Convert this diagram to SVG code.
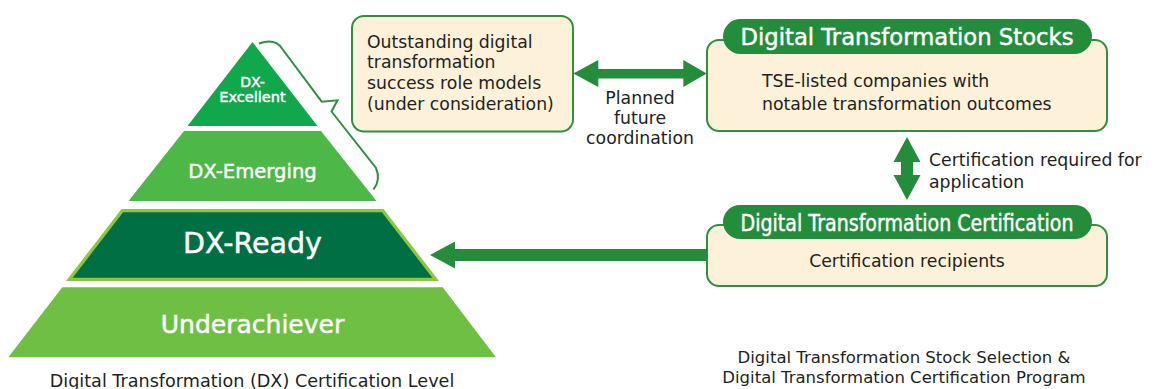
<svg xmlns="http://www.w3.org/2000/svg" width="1157" height="389" viewBox="0 0 1157 389">
<style>
text{font-family:"DejaVu Sans","Liberation Sans",sans-serif;}
.body{font-size:17.3px;fill:#231f20;}
.foot{fill:#231f20;}
.wt{fill:#fff;stroke:#fff;stroke-width:0.45;}
.hdr{font-size:22.4px;fill:#fff;stroke:#fff;stroke-width:0.45;}
.box{fill:#fdf1da;stroke:#2f9140;stroke-width:2;}
.pill{fill:#248d3b;}
.arrow{fill:#248d3b;}
</style>
<rect width="1157" height="389" fill="#fff"/>

<g id="tier-excellent">
  <polygon points="252.5,42 317.5,126 187.5,126" fill="#10a84b"/>
  <text class="wt" x="252.5" y="86.5" font-size="14" text-anchor="middle">DX-</text>
  <text class="wt" x="252.5" y="102.3" font-size="14.6" text-anchor="middle">Excellent</text>
</g>
<g id="tier-emerging">
  <polygon points="184,131 321,131 376.5,201 128.5,201" fill="#4db748"/>
  <text class="wt" x="252.5" y="177.7" font-size="19.6" text-anchor="middle">DX-Emerging</text>
</g>
<g id="tier-ready">
  <polygon points="121.5,209 383.5,209 439,281 66,281" fill="#8dc63f"/>
  <polygon points="123.1,212.3 381.9,212.3 432.3,277.7 72.7,277.7" fill="#006f44"/>
  <text class="wt" x="252.5" y="253.3" font-size="28.5" text-anchor="middle">DX-Ready</text>
</g>
<g id="tier-underachiever">
  <polygon points="62.3,287.3 442.7,287.3 496,357.3 8.3,357.3" fill="#70bf45"/>
  <text class="wt" x="252.5" y="333" font-size="25" text-anchor="middle">Underachiever</text>
</g>
<g id="bracket">
  <path d="M259,43.5 Q275,38 282,48.5 L321.7,101.7 L337.5,100.3 L331.5,111.5 L376,168 Q381,180 373.5,189.5" fill="none" stroke="#2f9140" stroke-width="2" stroke-linejoin="miter"/>
</g>
<g id="label-level">
  <text class="foot" x="252" y="386.7" font-size="17.6" text-anchor="middle">Digital Transformation (DX) Certification Level</text>
</g>

<g id="role-models">
  <rect class="box" x="352" y="16" width="221" height="115.5" rx="12"/>
  <text class="body" x="367" y="47.7">Outstanding digital</text>
  <text class="body" x="367" y="68.4">transformation</text>
  <text class="body" x="367" y="89.1">success role models</text>
  <text class="body" x="367" y="109.8">(under consideration)</text>
</g>

<g id="dx-stocks">
  <rect class="box" x="707" y="40" width="400" height="91" rx="12"/>
  <rect class="pill" x="723" y="19" width="369" height="35" rx="17.5"/>
  <text class="hdr" x="907" y="45" text-anchor="middle" textLength="333" lengthAdjust="spacingAndGlyphs">Digital Transformation Stocks</text>
  <text class="body" x="762" y="87.3">TSE-listed companies with</text>
  <text class="body" x="762" y="110">notable transformation outcomes</text>
</g>

<g id="dx-certification">
  <rect class="box" x="707" y="225" width="400" height="61" rx="12"/>
  <rect class="pill" x="723" y="205" width="369" height="34" rx="17"/>
  <text class="hdr" x="907" y="230.5" text-anchor="middle" textLength="333" lengthAdjust="spacingAndGlyphs">Digital Transformation Certification</text>
  <text class="body" x="907" y="266.7" text-anchor="middle">Certification recipients</text>
</g>

<g id="label-program">
  <text class="foot" x="904" y="363.3" font-size="16.5" text-anchor="middle">Digital Transformation Stock Selection &amp;</text>
  <text class="foot" x="904" y="383" font-size="16.5" text-anchor="middle">Digital Transformation Certification Program</text>
</g>

<g id="connectors">
  <polygon class="arrow" points="573.3,73.5 598.3,60 598.3,69 683.3,69 683.3,60 706.7,73.5 683.3,87 683.3,78.5 598.3,78.5 598.3,87"/>
  <text class="body" x="640" y="103.5" text-anchor="middle">Planned</text>
  <text class="body" x="640" y="123.5" text-anchor="middle">future</text>
  <text class="body" x="640" y="143.5" text-anchor="middle">coordination</text>

  <polygon class="arrow" points="907,137 920.5,162 913,162 913,175 920.5,175 907,200 893.5,175 901,175 901,162 893.5,162"/>
  <text class="body" x="929" y="166">Certification required for</text>
  <text class="body" x="929" y="188">application</text>

  <polygon class="arrow" points="430,255 455,241.5 455,249 707,249 707,261 455,261 455,268.5"/>
</g>
</svg>
